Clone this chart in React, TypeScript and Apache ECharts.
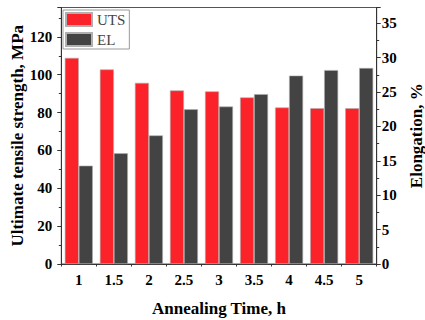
import React, { useEffect, useRef } from "react";
import * as echarts from "echarts";

const categories = ["1", "1.5", "2", "2.5", "3", "3.5", "4", "4.5", "5"];
const utsValues = [108.9, 102.8, 95.7, 91.7, 91.2, 88.0, 82.7, 82.3, 82.3];
const elValues = [14.3, 16.1, 18.7, 22.5, 22.9, 24.7, 27.4, 28.2, 28.5];

const FONT = "'Liberation Serif', 'Times New Roman', serif";

export default function App() {
  const ref = useRef<HTMLDivElement>(null);
  useEffect(() => {
    if (!ref.current) return;
    const chart = echarts.init(ref.current, undefined, { renderer: "svg" });
    const axisLabel = { color: "#000", fontFamily: FONT, fontWeight: "bold", fontSize: 15 };
    const nameStyle = { color: "#000", fontFamily: FONT, fontWeight: "bold", fontSize: 17 };
    chart.setOption({
      animation: false,
      backgroundColor: "#fff",
      grid: {
        left: 61.3,
        right: 48.3,
        top: 7.5,
        bottom: 56,
        outerBoundsMode: "none",
        containLabel: false,
        show: true,
        borderColor: "#555",
        borderWidth: 1,
        backgroundColor: "transparent",
      },
      legend: {
        orient: "vertical",
        left: 63,
        top: 10,
        icon: "rect",
        itemWidth: 26,
        itemHeight: 13,
        itemGap: 5,
        padding: [2, 4, 2, 2],
        borderColor: "#999",
        borderWidth: 1,
        textStyle: { color: "#444", fontFamily: FONT, fontSize: 15 },
        data: ["UTS", "EL"],
      },
      xAxis: [
        {
          type: "category",
          data: categories,
          name: "Annealing Time, h",
          nameLocation: "middle",
          nameGap: 36,
          nameMoveOverlap: false,
          nameTextStyle: nameStyle,
          axisLine: { lineStyle: { color: "#333", width: 1 } },
          axisTick: { alignWithLabel: true, length: 4, lineStyle: { color: "#333" } },
          axisLabel: { ...axisLabel, margin: 8 },
        },
        {
          type: "category",
          data: categories,
          position: "bottom",
          axisLine: { show: false },
          axisTick: { show: true, length: 2.5, lineStyle: { color: "#333" } },
          axisLabel: { show: false },
        },
      ],
      yAxis: [
        {
          type: "value",
          min: 0,
          max: 135.5,
          interval: 20,
          name: "Ultimate tensile strength, MPa",
          nameLocation: "middle",
          nameGap: 35,
          nameMoveOverlap: false,
          nameTextStyle: nameStyle,
          axisLine: { show: true, lineStyle: { color: "#333", width: 1 } },
          axisTick: { show: true, length: 4, lineStyle: { color: "#333" } },
          minorTick: { show: true, splitNumber: 2, length: 2.5, lineStyle: { color: "#333" } },
          splitLine: { show: false },
          axisLabel: { ...axisLabel, margin: 9, showMaxLabel: false },
        },
        {
          type: "value",
          min: 0,
          max: 37.3,
          interval: 5,
          position: "right",
          name: "Elongation, %",
          nameLocation: "middle",
          nameGap: 31,
          nameMoveOverlap: false,
          nameRotate: 90,
          nameTextStyle: nameStyle,
          axisLine: { show: true, lineStyle: { color: "#333", width: 1 } },
          axisTick: { show: true, length: 4, lineStyle: { color: "#333" } },
          minorTick: { show: true, splitNumber: 2, length: 2.5, lineStyle: { color: "#333" } },
          splitLine: { show: false },
          axisLabel: { ...axisLabel, margin: 5, showMaxLabel: false },
        },
      ],
      series: [
        {
          name: "UTS",
          type: "bar",
          xAxisIndex: 0,
          yAxisIndex: 0,
          data: utsValues,
          barWidth: 14,
          barGap: "0%",
          itemStyle: { color: "#fb2329", borderColor: "#b0b0b0", borderWidth: 0.6 },
        },
        {
          name: "EL",
          type: "bar",
          xAxisIndex: 0,
          yAxisIndex: 1,
          data: elValues,
          barWidth: 14,
          barGap: "0%",
          itemStyle: { color: "#434343", borderColor: "#b0b0b0", borderWidth: 0.6 },
        },
      ],
    });
    return () => chart.dispose();
  }, []);
  return (
    <div
      ref={ref}
      style={{ position: "fixed", left: 0, top: 0, width: 425, height: 320, background: "#fff" }}
    />
  );
}
